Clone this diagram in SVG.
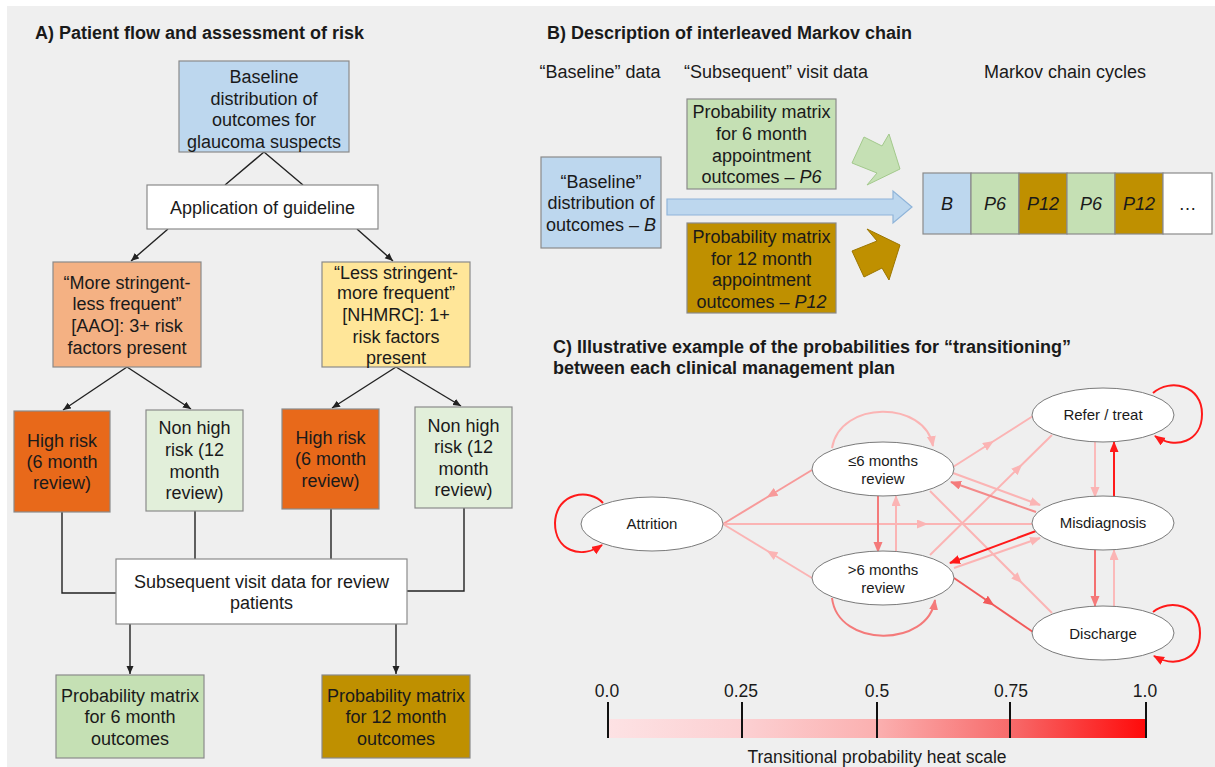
<svg xmlns="http://www.w3.org/2000/svg" width="1215" height="767" viewBox="0 0 1215 767">
<style>
text{font-family:"Liberation Sans",Arial,sans-serif;fill:#1a1a1a}
.t{font-size:18px;text-anchor:middle}
.h{font-size:18px;font-weight:bold}
.n{font-size:15px;text-anchor:middle}
.c{font-size:18px;text-anchor:middle;font-style:italic}
.s{font-size:17.5px;text-anchor:middle}
.box{stroke:#8a8a8a;stroke-width:1.2}
.fl{fill:none;stroke:#222;stroke-width:1.4}
.e{fill:none;stroke-width:2}
.ell{fill:#fff;stroke:#7a7a7a;stroke-width:1}
</style>
<defs>
<marker id="ak" markerUnits="userSpaceOnUse" markerWidth="9" markerHeight="8" refX="8" refY="3.5" orient="auto"><path d="M0,0 L8,3.5 L0,7 z" fill="#222"/></marker>
<marker id="mr" markerUnits="userSpaceOnUse" markerWidth="12" markerHeight="10" refX="10" refY="4.5" orient="auto"><path d="M0,0 L11,4.5 L0,9 z" fill="#ff1a1a"/></marker>
<marker id="ms" markerUnits="userSpaceOnUse" markerWidth="12" markerHeight="10" refX="10" refY="4.5" orient="auto"><path d="M0,0 L11,4.5 L0,9 z" fill="#f25a5a"/></marker>
<marker id="mm" markerUnits="userSpaceOnUse" markerWidth="12" markerHeight="10" refX="10" refY="4.5" orient="auto"><path d="M0,0 L11,4.5 L0,9 z" fill="#f47a7a"/></marker>
<marker id="mq" markerUnits="userSpaceOnUse" markerWidth="12" markerHeight="10" refX="10" refY="4.5" orient="auto"><path d="M0,0 L11,4.5 L0,9 z" fill="#f79a9a"/></marker>
<marker id="ml" markerUnits="userSpaceOnUse" markerWidth="12" markerHeight="10" refX="10" refY="4.5" orient="auto"><path d="M0,0 L11,4.5 L0,9 z" fill="#fbb4b4"/></marker>
<linearGradient id="heat" x1="0" y1="0" x2="1" y2="0">
<stop offset="0" stop-color="#fde2e4"/>
<stop offset="0.25" stop-color="#fcd0d2"/>
<stop offset="0.5" stop-color="#fbb0b0"/>
<stop offset="0.75" stop-color="#f76a6a"/>
<stop offset="1" stop-color="#ff0a0a"/>
</linearGradient>
</defs>
<rect x="0" y="0" width="1215" height="767" fill="#ffffff"/>
<rect x="7" y="6" width="1208" height="761" fill="#efefef"/>

<!-- Titles -->
<text class="h" x="35" y="39">A) Patient flow and assessment of risk</text>
<text class="h" x="547" y="39">B) Description of interleaved Markov chain</text>
<text class="h" x="553" y="353">C) Illustrative example of the probabilities for “transitioning”</text>
<text class="h" x="553" y="374">between each clinical management plan</text>

<!-- Panel A connectors -->
<g id="connectors-a">
<path class="fl" d="M264,152 L225,185 M264,152 L303,185"/>
<path class="fl" d="M168,229 L131,261" marker-end="url(#ak)"/>
<path class="fl" d="M357,229 L393,261" marker-end="url(#ak)"/>
<path class="fl" d="M127,367 L63,410" marker-end="url(#ak)"/>
<path class="fl" d="M127,367 L191,409" marker-end="url(#ak)"/>
<path class="fl" d="M396,367 L332,408" marker-end="url(#ak)"/>
<path class="fl" d="M396,367 L461,406" marker-end="url(#ak)"/>
<path class="fl" d="M62,512 L62,593 L116,593"/>
<path class="fl" d="M195,511 L195,559"/>
<path class="fl" d="M331,509 L331,559"/>
<path class="fl" d="M464,508 L464,591 L407,591"/>
<path class="fl" d="M130,624 L130,674" marker-end="url(#ak)"/>
<path class="fl" d="M396,624 L396,674" marker-end="url(#ak)"/>
</g>

<!-- Panel A nodes -->
<g id="a-baseline"><rect class="box" x="179" y="61" width="170" height="91" fill="#bdd7ee"/>
<text class="t" x="264" y="83">Baseline</text><text class="t" x="264" y="105">distribution of</text><text class="t" x="264" y="126">outcomes for</text><text class="t" x="264" y="148">glaucoma suspects</text></g>
<g id="a-application"><rect class="box" x="147" y="185" width="231" height="44" fill="#ffffff"/>
<text class="t" x="262.5" y="214">Application of guideline</text></g>
<g id="a-aao"><rect class="box" x="53" y="262" width="148" height="105" fill="#f4b183"/>
<text class="t" x="127" y="289">“More stringent-</text><text class="t" x="127" y="310">less frequent”</text><text class="t" x="127" y="332">[AAO]: 3+ risk</text><text class="t" x="127" y="354">factors present</text></g>
<g id="a-nhmrc"><rect class="box" x="322" y="262" width="148" height="105" fill="#ffe699"/>
<text class="t" x="396" y="279">“Less stringent-</text><text class="t" x="396" y="299">more frequent”</text><text class="t" x="396" y="321">[NHMRC]: 1+</text><text class="t" x="396" y="343">risk factors</text><text class="t" x="396" y="364">present</text></g>
<g id="a-high1"><rect class="box" x="14" y="411" width="96" height="101" fill="#e8691a"/>
<text class="t" x="62" y="447">High risk</text><text class="t" x="62" y="468">(6 month</text><text class="t" x="62" y="489">review)</text></g>
<g id="a-nonhigh1"><rect class="box" x="146" y="410" width="97" height="101" fill="#e2efda"/>
<text class="t" x="194.5" y="434">Non high</text><text class="t" x="194.5" y="456">risk (12</text><text class="t" x="194.5" y="478">month</text><text class="t" x="194.5" y="499">review)</text></g>
<g id="a-high2"><rect class="box" x="282" y="409" width="97" height="100" fill="#e8691a"/>
<text class="t" x="330.5" y="444">High risk</text><text class="t" x="330.5" y="465">(6 month</text><text class="t" x="330.5" y="487">review)</text></g>
<g id="a-nonhigh2"><rect class="box" x="415" y="407" width="97" height="101" fill="#e2efda"/>
<text class="t" x="463.5" y="432">Non high</text><text class="t" x="463.5" y="453">risk (12</text><text class="t" x="463.5" y="475">month</text><text class="t" x="463.5" y="496">review)</text></g>
<g id="a-subsequent"><rect class="box" x="116" y="559" width="291" height="65" fill="#ffffff"/>
<text class="t" x="261.5" y="588">Subsequent visit data for review</text><text class="t" x="261.5" y="609">patients</text></g>
<g id="a-prob6"><rect class="box" x="56" y="675" width="148" height="83" fill="#c5e0b4"/>
<text class="t" x="130" y="702">Probability matrix</text><text class="t" x="130" y="723">for 6 month</text><text class="t" x="130" y="745">outcomes</text></g>
<g id="a-prob12"><rect class="box" x="322" y="675" width="148" height="83" fill="#bf9000"/>
<text class="t" x="396" y="702">Probability matrix</text><text class="t" x="396" y="723">for 12 month</text><text class="t" x="396" y="745">outcomes</text></g>

<!-- Panel B -->
<text class="t" x="600" y="78">“Baseline” data</text>
<text class="t" x="776" y="78">“Subsequent” visit data</text>
<text class="t" x="1065" y="78">Markov chain cycles</text>
<g id="b-baseline"><rect class="box" x="541" y="157" width="120" height="91" fill="#bdd7ee"/>
<text class="t" x="601" y="188">“Baseline”</text><text class="t" x="601" y="209">distribution of</text><text class="t" x="601" y="231">outcomes – <tspan font-style="italic">B</tspan></text></g>
<g id="b-p6"><rect class="box" x="687" y="99" width="149" height="90" fill="#c5e0b4"/>
<text class="t" x="761.5" y="118">Probability matrix</text><text class="t" x="761.5" y="140">for 6 month</text><text class="t" x="761.5" y="162">appointment</text><text class="t" x="761.5" y="183">outcomes – <tspan font-style="italic">P6</tspan></text></g>
<g id="b-p12"><rect class="box" x="687" y="223" width="149" height="90" fill="#bf9000"/>
<text class="t" x="761.5" y="243">Probability matrix</text><text class="t" x="761.5" y="265">for 12 month</text><text class="t" x="761.5" y="286">appointment</text><text class="t" x="761.5" y="308">outcomes – <tspan font-style="italic">P12</tspan></text></g>
<g id="b-arrows">
<path d="M667,199 L893,199 L893,191 L912,207 L893,223 L893,215 L667,215 z" fill="#bdd7ee" stroke="#8fb4d9" stroke-width="1.2"/>
<path d="M852,163 L864,137 L882,146 L889,134 L900,169 L867,185 L877,173 z" fill="#c5e0b4" stroke="#a3c98c" stroke-width="1"/>
<path d="M852,251 L864,277 L882,268 L889,280 L900,245 L867,229 L877,241 z" fill="#bf9000" stroke="#9c7600" stroke-width="1"/>
</g>
<g id="b-chain">
<rect class="box" x="923" y="173" width="48" height="61" fill="#bdd7ee"/>
<rect class="box" x="971" y="173" width="48" height="61" fill="#c5e0b4"/>
<rect class="box" x="1019" y="173" width="48" height="61" fill="#bf9000"/>
<rect class="box" x="1067" y="173" width="48" height="61" fill="#c5e0b4"/>
<rect class="box" x="1115" y="173" width="48" height="61" fill="#bf9000"/>
<rect class="box" x="1163" y="173" width="49" height="61" fill="#ffffff"/>
<text class="c" x="947" y="210">B</text>
<text class="c" x="995" y="210">P6</text>
<text class="c" x="1043" y="210">P12</text>
<text class="c" x="1091" y="210">P6</text>
<text class="c" x="1139" y="210">P12</text>
<text class="t" x="1187.5" y="210">…</text>
</g>

<!-- Panel C connectors -->
<g id="connectors-c">
<path class="e" stroke="#f79a9a" d="M812,470 L767.5,497 L723,524" marker-mid="url(#mq)"/>
<path class="e" stroke="#fbb4b4" d="M812,578 L767.5,551 L723,524" marker-mid="url(#ml)"/>
<path class="e" stroke="#fbb4b4" d="M723,524 L927,524 L1032,524" marker-mid="url(#ml)"/>
<path class="e" stroke="#fbb4b4" d="M953,467 L993,441.5 L1033,416" marker-mid="url(#ml)"/>
<path class="e" stroke="#fbb4b4" d="M930,555 L1021.5,465 L1052,435" marker-mid="url(#ml)"/>
<path class="e" stroke="#fbb4b4" d="M930,491 L1021.5,582.5 L1052,613" marker-mid="url(#ml)"/>
<path class="e" stroke="#f25a5a" d="M954,578 L993.5,605 L1033,632" marker-mid="url(#ms)"/>
<path class="e" stroke="#f47a7a" d="M878,496 L878,552" marker-end="url(#mm)"/>
<path class="e" stroke="#fbb4b4" d="M896,552 L896,496" marker-end="url(#ml)"/>
<path class="e" stroke="#fbb4b4" d="M953,473 L1040,505" marker-end="url(#ml)"/>
<path class="e" stroke="#f48a8a" d="M1036,512 L951,482" marker-end="url(#mm)"/>
<path class="e" stroke="#ff1a1a" d="M1036,531 L950,563" marker-end="url(#mr)"/>
<path class="e" stroke="#fbb4b4" d="M954,568 L1040,538" marker-end="url(#ml)"/>
<path class="e" stroke="#fbbaba" d="M1095,442 L1095,497" marker-end="url(#ml)"/>
<path class="e" stroke="#ff1a1a" d="M1114,497 L1114,442" marker-end="url(#mr)"/>
<path class="e" stroke="#f47070" d="M1095,550 L1095,606" marker-end="url(#mm)"/>
<path class="e" stroke="#fbbaba" d="M1114,606 L1114,550" marker-end="url(#ml)"/>
<path class="e" stroke="#ff1a1a" d="M603,503 C590,488 556,492 555,523 C555,550 580,560 602,545" marker-end="url(#mr)"/>
<path class="e" stroke="#ff1a1a" d="M1153,393 C1170,378 1202,385 1202,414 C1202,442 1175,450 1155,436" marker-end="url(#mr)"/>
<path class="e" stroke="#ff1a1a" d="M1153,612 C1170,598 1200,605 1200,633 C1200,660 1175,668 1154,656" marker-end="url(#mr)"/>
<path class="e" stroke="#fbb4b4" d="M832,448 C840,400 925,400 933,446" marker-end="url(#ml)"/>
<path class="e" stroke="#f47a7a" d="M832,598 C838,648 928,648 935,600" marker-end="url(#mm)"/>
</g>

<!-- Panel C nodes -->
<g id="c-attrition"><ellipse class="ell" cx="652" cy="524" rx="71" ry="27"/><text class="n" x="652" y="529">Attrition</text></g>
<g id="c-le6"><ellipse class="ell" cx="883" cy="469" rx="71" ry="27"/><text class="n" x="883" y="466">≤6 months</text><text class="n" x="883" y="484">review</text></g>
<g id="c-gt6"><ellipse class="ell" cx="883" cy="578" rx="71" ry="27"/><text class="n" x="883" y="575">&gt;6 months</text><text class="n" x="883" y="593">review</text></g>
<g id="c-refer"><ellipse class="ell" cx="1103" cy="415" rx="71" ry="27"/><text class="n" x="1103" y="420">Refer / treat</text></g>
<g id="c-misdiag"><ellipse class="ell" cx="1103" cy="523" rx="71" ry="27"/><text class="n" x="1103" y="528">Misdiagnosis</text></g>
<g id="c-discharge"><ellipse class="ell" cx="1103" cy="633" rx="71" ry="27"/><text class="n" x="1103" y="639">Discharge</text></g>

<!-- Heat scale -->
<g id="heat-scale">
<rect x="608" y="719" width="538" height="19" fill="url(#heat)"/>
<path d="M608,702 V738 M742,702 V738 M877,702 V738 M1010,702 V738 M1146,702 V738" stroke="#111" stroke-width="2"/>
<text class="s" x="607" y="697">0.0</text>
<text class="s" x="741" y="697">0.25</text>
<text class="s" x="877" y="697">0.5</text>
<text class="s" x="1011" y="697">0.75</text>
<text class="s" x="1145" y="697">1.0</text>
<text class="s" x="877" y="763">Transitional probability heat scale</text>
</g>
</svg>
